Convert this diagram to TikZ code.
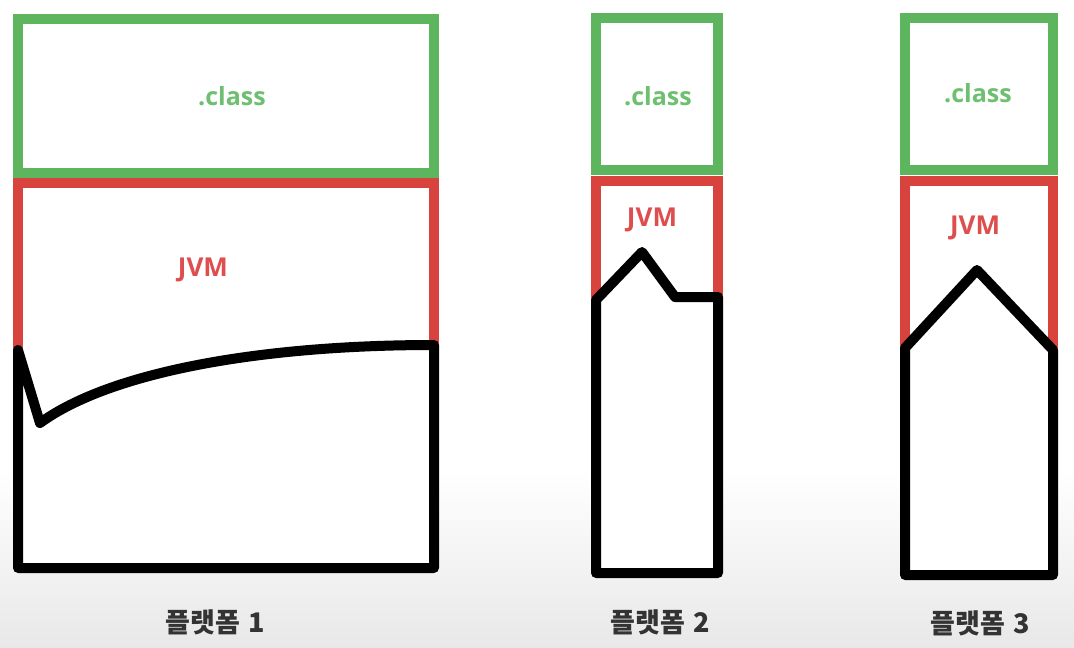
\documentclass[tikz,border=0pt]{standalone}
\usepackage{fontspec}
\setmainfont{Open Sans}
\newfontfamily\kr{Noto Sans CJK KR}
\definecolor{gline}{HTML}{5DB55E}
\definecolor{gtext}{HTML}{6CC070}
\definecolor{rline}{HTML}{D8433D}
\definecolor{rtext}{HTML}{DE4E4E}
\definecolor{lbl}{HTML}{333333}
\tikzset{
  classbox/.style={draw=gline, line width=10pt},
  jvmline/.style={draw=rline, line width=10pt},
  osline/.style={draw=black, fill=white, line width=10pt, line join=round},
  classtxt/.style={text=gtext, font=\bfseries\fontsize{25}{30}\selectfont},
  jvmtxt/.style={text=rtext, font=\bfseries\fontsize{26}{30}\selectfont},
  plat/.style={text=lbl, font=\kr\bfseries\fontsize{27}{30}\selectfont}
}
\begin{document}
\begin{tikzpicture}[x=1pt,y=-1pt]
\useasboundingbox (0,0) rectangle (1074,648);
\fill[white] (0,0) rectangle (1074,648);
\shade[top color=white, bottom color=black!9] (0,470) rectangle (1074,648);
% platform 1
\draw[classbox, fill=white] (18,19) rectangle (434,173);
\draw[jvmline] (18,352) -- (18,183) -- (434,183) -- (434,348);
\draw[osline] (40,423) -- (18,350) -- (18,568) -- (434,568) -- (434,345) .. controls (260,345) and (110,372) .. cycle;
\node[classtxt] (c1) at (232,96) {.class};
\node[jvmtxt] (j1) at (203,270) {JVM};
\node[plat] (p1) at (215,622) {플랫폼\hspace{0.3em}1};
% platform 2
\draw[classbox] (596,18) rectangle (718,170);
\draw[jvmline] (596,302) -- (596,181) -- (718,181) -- (718,297);
\draw[osline] (596,300) -- (642,252) -- (675,297) -- (718,297) -- (718,573) -- (596,573) -- cycle;
\node[classtxt] (c2) at (658,96) {.class};
\node[jvmtxt] (j2) at (652,220) {JVM};
\node[plat] (p2) at (660,622) {플랫폼\hspace{0.3em}2};
% platform 3
\draw[classbox] (905,18) rectangle (1053,170);
\draw[jvmline] (905,348) -- (905,181) -- (1053,181) -- (1053,352);
\draw[osline] (905,348) -- (977,270) -- (1053,350) -- (1053,575) -- (905,575) -- cycle;
\node[classtxt] (c3) at (978,93) {.class};
\node[jvmtxt] (j3) at (975,228) {JVM};
\node[plat] (p3) at (980,623) {플랫폼\hspace{0.3em}3};
\end{tikzpicture}
\end{document}
